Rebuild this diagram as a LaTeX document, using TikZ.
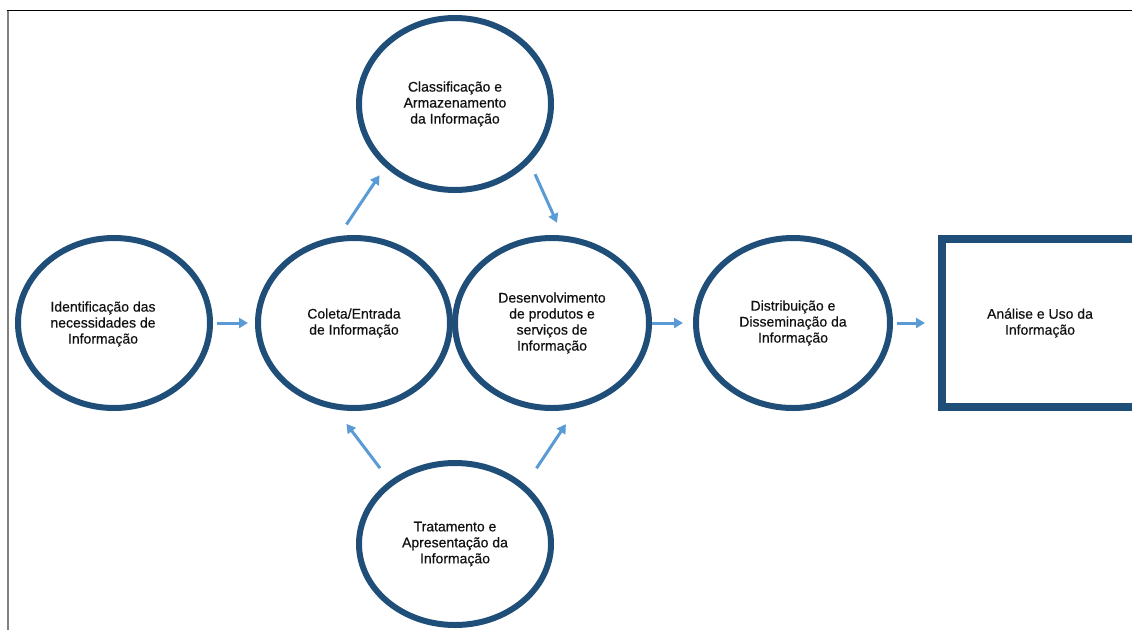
\documentclass[tikz,border=0pt]{standalone}
\usepackage{fontspec}
\setmainfont{Liberation Sans}[BoldFont=Liberation Sans, BoldFeatures={FakeBold=0.5}]
\usetikzlibrary{shapes.geometric,arrows.meta}
\definecolor{ringblue}{HTML}{1F4E79}
\definecolor{arrowblue}{HTML}{5B9BD5}
\definecolor{framegray}{HTML}{808080}
\definecolor{txt}{HTML}{111111}
\begin{document}
\begin{tikzpicture}[x=1pt,y=-1pt,
  ring/.style={ellipse, draw=ringblue, line width=6pt, minimum width=192pt, minimum height=170pt, inner sep=0pt, align=center, font=\fontsize{14}{16}\selectfont\bfseries, text=txt},
  lbl/.style={align=center, inner sep=0pt, font=\fontsize{14}{16}\selectfont\bfseries, text=txt},
  endbox/.style={rectangle, draw=ringblue, line width=8pt, minimum width=196pt, minimum height=168pt, inner sep=0pt, align=center, font=\fontsize{14}{16}\selectfont\bfseries, text=txt},
  flow/.style={draw=arrowblue, line width=3pt, -{Triangle[length=9pt,width=10pt]}}]
\useasboundingbox (0,0) rectangle (1132,630);
\clip (0,0) rectangle (1132,630);
% frame
\draw[framegray, line width=2pt] (7.5,10) -- (7.5,630);
\draw[black, line width=1.8pt] (6.5,10.5) -- (1132,10.5);
% nodes
\node[ring] (e1) at (114,323) {};
\node[lbl] (t1) at (103,324) {Identificação das\\necessidades de\\Informação};
\node[ring] (e2) at (354,323) {Coleta/Entrada\\de Informação};
\node[ring, minimum width=194pt] (e3) at (552,323) {Desenvolvimento\\de produtos e\\serviços de\\Informação};
\node[ring, minimum width=194pt] (e4) at (793,323) {Distribuição e\\Disseminação da\\Informação};
\node[ring, minimum height=172pt] (e5) at (455,104) {Classificação e\\Armazenamento\\da Informação};
\node[ring, minimum height=162pt] (e6) at (455,544) {Tratamento e\\Apresentação da\\Informação};
\node[endbox] (r) at (1040,323) {Análise e Uso da\\Informação};
% connectors
\draw[flow, shorten <=4pt, shorten >=7pt] (e1.east) -- (e2.west);
\draw[flow, shorten <=0pt, shorten >=10pt] (e3.east) -- (e4.west);
\draw[flow, shorten <=4pt, shorten >=13pt] (e4.east) -- (r.west);
\draw[flow, shorten <=14pt, shorten >=10pt] (e2.100) -- (e5.222);
\draw[flow, shorten <=13pt, shorten >=14pt] (e5.322) -- (e3.83);
\draw[flow, shorten <=16pt, shorten >=18pt] (e6.136) -- (e2.258);
\draw[flow, shorten <=20pt, shorten >=19pt] (e6.40) -- (e3.286);
\end{tikzpicture}
\end{document}
